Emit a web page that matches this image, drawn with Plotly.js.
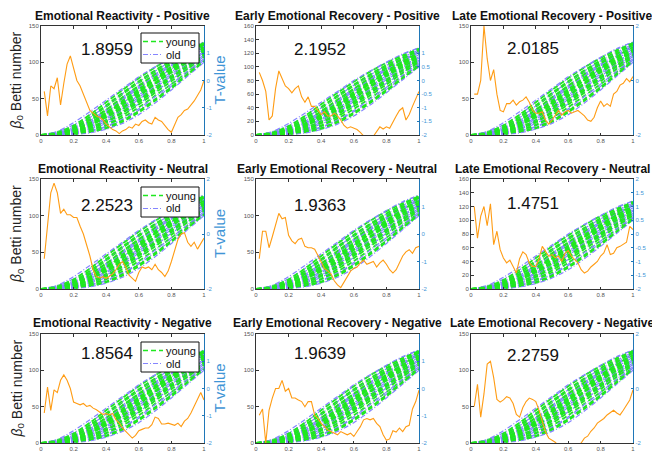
<!DOCTYPE html>
<html>
<head>
<meta charset="utf-8">
<script src="https://cdn.plot.ly/plotly-3.0.1.min.js"></script>
<style>html,body{margin:0;padding:0;background:#fff;}#chart{width:652px;height:452px;}</style>
</head>
<body>
<div id="chart"></div>
<script>
// ---------- DATA ----------
const PANEL_TITLES = [
  "Emotional Reactivity - Positive", "Early Emotional Recovery - Positive", "Late Emotional Recovery - Positive",
  "Emotional Reactivity - Neutral", "Early Emotional Recovery - Neutral", "Late Emotional Recovery - Neutral",
  "Emotional Reactivity - Negative", "Early Emotional Recovery - Negative", "Late Emotional Recovery - Negative"
];
const PANEL_STATS = ["1.8959", "2.1952", "2.0185", "2.2523", "1.9363", "1.4751", "1.8564", "1.9639", "2.2759"];
const LEGEND_LABELS = ["young", "old"];

const LEFT_MAX = [150, 160, 150, 150, 150, 160, 150, 150, 150];
const LEFT_TICKS_150 = [0, 50, 100, 150];
const LEFT_TICKS_160 = [0, 20, 40, 60, 80, 100, 120, 140, 160];
const X_TICKS = [0, 0.2, 0.4, 0.6, 0.8, 1];
const X_TICK_LABELS = ["0", "0.2", "0.4", "0.6", "0.8", "1"];
const RIGHT_TICKS_A = [-2, -1, 0, 1];
const RIGHT_TICKS_B = [-2, 0, 2];
const RIGHT_TICKS_C = [-2, -1.5, -1, -0.5, 0, 0.5, 1];
const RIGHT_TICKS_D = [-2, -1.5, -1, -0.5, 0, 0.5, 1, 1.5, 2];

// Betti-number curves (filtration value on x)
const X_GRID = [0, 0.1, 0.2, 0.3, 0.4, 0.5, 0.6, 0.7, 0.8, 0.9, 1.0];
const YOUNG_CURVES = [
  [0, 0.5, 2, 6, 13, 24, 38, 54, 70, 87, 104],
  [0, 1, 3, 8, 17, 30, 45, 61, 77, 93, 108],
  [0, 1, 4, 10, 21, 35, 50, 66, 82, 97, 112],
  [0, 1, 5, 13, 25, 40, 56, 72, 88, 102, 115],
  [0, 2, 6, 15, 29, 45, 61, 77, 92, 106, 118],
  [0, 2, 8, 19, 34, 50, 66, 82, 97, 110, 121],
  [0, 3, 10, 23, 39, 56, 72, 87, 101, 113, 124],
  [0, 4, 13, 28, 45, 62, 78, 93, 106, 117, 126],
  [0, 0.5, 1, 4, 9, 18, 31, 47, 64, 83, 101],
  [0, 1, 4, 11, 19, 31, 46, 62, 79, 96, 111],
  [0, 2, 7, 16, 27, 42, 59, 75, 90, 104, 117],
  [0, 1, 6, 12, 30, 44, 58, 76, 92, 108, 122],
  [0, 2, 9, 21, 35, 52, 68, 84, 99, 112, 125],
  [0, 1, 3, 7, 14, 27, 42, 58, 74, 91, 107],
  [0, 0.5, 2, 5, 10, 20, 33, 49, 66, 84, 102],
  [0, 1, 5, 14, 26, 38, 53, 70, 86, 100, 114],
  [0, 2, 8, 17, 31, 47, 63, 79, 94, 108, 120],
  [0, 3, 11, 25, 41, 58, 74, 89, 103, 115, 127],
  [0, 1, 3, 9, 18, 32, 48, 64, 80, 95, 110],
  [0, 2, 6, 14, 24, 37, 54, 71, 88, 103, 116]
];
const OLD_CURVES = [
  [0, 0.5, 2, 5, 11, 21, 34, 50, 67, 85, 103],
  [0, 1, 3, 8, 16, 28, 43, 59, 76, 92, 108],
  [0, 1, 4, 11, 22, 36, 52, 68, 84, 99, 113],
  [0, 2, 6, 15, 28, 44, 60, 76, 91, 105, 118],
  [0, 3, 9, 20, 35, 52, 68, 84, 98, 111, 123],
  [0, 4, 14, 28, 45, 62, 78, 93, 106, 118, 128],
  [0, 1, 5, 13, 24, 39, 55, 71, 87, 101, 115],
  [0, 2, 7, 17, 31, 48, 64, 80, 95, 108, 121],
  [0, 1, 2, 6, 12, 22, 36, 53, 70, 88, 105],
  [0, 3, 11, 24, 40, 57, 73, 88, 102, 114, 125],
  [0, 1, 3, 9, 19, 33, 49, 65, 81, 96, 110],
  [0, 2, 8, 18, 33, 50, 66, 82, 96, 109, 122],
  [0, 0.5, 1, 3, 8, 16, 28, 44, 62, 81, 100],
  [0, 5, 17, 32, 48, 64, 80, 94, 107, 119, 128]
];

// T-value curves (right axis)
const T_X = [0.02, 0.04, 0.06, 0.08, 0.10, 0.12, 0.14, 0.16, 0.18, 0.20,
             0.22, 0.24, 0.26, 0.28, 0.30, 0.32, 0.34, 0.36, 0.38, 0.40,
             0.42, 0.44, 0.46, 0.48, 0.50, 0.52, 0.54, 0.56, 0.58, 0.60,
             0.62, 0.64, 0.66, 0.68, 0.70, 0.72, 0.74, 0.76, 0.78, 0.80,
             0.82, 0.84, 0.86, 0.88, 0.90, 0.92, 0.94, 0.96, 0.98, 1.00];
const T_REACT_POS = [-0.4, -1.3, -0.2, -0.3, 0.1, -0.9, -0.1, 0.6, 0.9, 0.4,
  0.0, -0.2, -0.5, -0.85, -1.1, -1.2, -1.3, -1.35, -1.45, -1.6,
  -1.7, -1.8, -1.85, -1.95, -1.85, -1.8, -1.7, -1.75, -1.6, -1.65,
  -1.5, -1.45, -1.55, -1.6, -1.35, -1.45, -1.5, -1.65, -1.8, -1.9,
  -1.6, -1.35, -1.25, -1.1, -1.05, -0.9, -0.75, -0.55, -0.35, 0.0];
const T_EARLY_POS = [0.3, 0.0, -0.4, -1.45, -1.3, -0.3, 0.35, 0.1, -0.2, -0.3,
  -0.45, -0.3, -0.2, -0.6, -0.8, -0.6, -0.95, -0.95, -1.1, -1.25,
  -1.15, -1.3, -1.3, -1.2, -1.3, -1.45, -1.65, -1.75, -1.7, -1.75,
  -1.8, -1.9, -2.05, -2.2, -2.3, -2.05, -1.85, -1.7, -1.78, -1.7,
  -1.75, -1.5, -1.3, -1.1, -1.0, -1.45, -1.25, -0.95, -0.7, -0.4];
const T_LATE_POS = [-0.5, -0.5, 0.0, 2.0, 0.8, 0.0, 0.4, -0.5, -1.1, -1.15,
  -0.85, -0.85, -0.72, -0.9, -0.78, -0.72, -0.6, -0.8, -1.1, -1.2,
  -1.2, -1.15, -1.45, -1.6, -1.45, -1.27, -1.1, -1.27, -1.15, -1.1,
  -1.2, -1.15, -1.1, -1.2, -1.3, -1.45, -1.5, -1.35, -1.0, -0.75,
  -0.95, -0.85, -0.95, -0.5, -0.4, -0.17, -0.1, 0.07, -0.05, 0.15];
const T_REACT_NEU = [-0.9, 0.3, 1.5, 1.85, 1.5, 0.75, 0.9, 0.7, 0.7, 0.6,
  0.6, 0.28, 0.0, -0.4, -0.8, -1.3, -1.55, -1.6, -1.55, -1.62,
  -1.55, -1.45, -1.3, -1.1, -1.0, -1.2, -1.5, -1.6, -1.72, -1.4,
  -1.2, -1.25, -1.2, -1.3, -1.1, -1.3, -1.4, -1.55, -1.35, -1.0,
  -0.6, -0.2, 0.0, 0.05, -0.3, -0.45, -0.3, -0.55, -0.35, -0.15];
const T_EARLY_NEU = [-0.9, 0.1, 0.1, -0.5, -0.1, 0.3, 0.75, 0.55, 0.6, -0.05,
  -0.25, -0.35, -0.2, -0.15, -0.45, -0.5, -0.5, -0.55, -0.8, -1.05,
  -1.25, -1.35, -1.45, -1.7, -1.85, -1.95, -1.75, -1.5, -1.35, -1.25,
  -1.2, -1.05, -0.95, -1.1, -1.05, -1.0, -1.2, -1.05, -0.95, -1.1,
  -1.3, -1.42, -1.3, -1.05, -0.8, -0.65, -0.57, -0.7, -0.5, -0.45];
const T_LATE_NEU = [1.0, -0.15, 0.65, 1.0, 0.3, 1.1, -0.39, 0.1, -0.57, -0.87,
  -1.05, -0.95, -1.18, -1.42, -0.9, -0.65, -0.75, -1.05, -1.18, -1.18,
  -0.9, -0.45, -0.63, -0.81, -0.75, -0.87, -0.8, -1.0, -0.7, -0.6,
  -0.81, -0.95, -1.05, -1.3, -1.42, -1.35, -1.2, -1.1, -1.0, -0.8,
  -0.69, -0.39, -0.75, -0.7, -0.5, -0.45, -0.39, -0.3, 0.28, 0.16];
const T_REACT_NEG = [-0.9, 0.05, -0.8, -0.05, -0.15, 0.3, 0.5, 0.3, 0.0, -0.5,
  -0.55, -0.6, -0.55, -0.66, -0.62, -0.72, -0.78, -0.85, -0.95, -0.92,
  -0.97, -0.92, -1.15, -1.27, -1.45, -1.57, -1.7, -1.82, -1.72, -1.55,
  -1.5, -1.45, -1.45, -1.33, -1.05, -1.1, -1.3, -1.3, -1.27, -1.3,
  -1.35, -1.27, -1.4, -1.2, -1.1, -0.9, -0.66, -0.45, -0.15, -0.42];
const T_EARLY_NEG = [-0.98, -0.75, -2.0, -0.8, -0.35, 0.0, 0.0, 0.3, -0.1, 0.0,
  -0.35, -0.35, -0.42, -0.48, -0.67, -0.48, -0.48, -0.98, -1.1, -1.28,
  -1.4, -1.52, -1.58, -1.64, -1.7, -1.58, -1.64, -1.7, -1.64, -1.76,
  -1.58, -1.4, -1.15, -1.1, -1.15, -1.1, -1.28, -1.4, -1.7, -1.9,
  -1.85, -1.55, -1.6, -1.45, -1.58, -1.4, -1.35, -0.75, -0.48, -0.06];
const T_LATE_NEG = [-0.66, 0.15, -1.05, -0.2, 0.9, 1.0, 0.4, -0.4, -0.5, -0.42,
  -0.3, -0.35, -0.55, -0.95, -1.05, -0.7, -0.48, -0.35, -0.4, -0.48,
  -0.8, -1.25, -1.6, -1.82, -1.9, -1.97, -2.1, -2.2, -2.25, -2.25,
  -2.3, -2.2, -2.1, -2.0, -1.82, -1.75, -1.57, -1.45, -1.27, -1.2,
  -1.1, -0.97, -0.9, -0.8, -0.9, -0.97, -0.8, -0.6, -0.42, -0.05];

// ---------- BUILD ----------
const T_SERIES = [T_REACT_POS, T_EARLY_POS, T_LATE_POS, T_REACT_NEU, T_EARLY_NEU, T_LATE_NEU, T_REACT_NEG, T_EARLY_NEG, T_LATE_NEG];
const LEFT_TICKS = LEFT_MAX.map(m => m === 160 ? LEFT_TICKS_160 : LEFT_TICKS_150);
const RIGHT_TICKS = [RIGHT_TICKS_A, RIGHT_TICKS_C, RIGHT_TICKS_B, RIGHT_TICKS_B, RIGHT_TICKS_A, RIGHT_TICKS_D, RIGHT_TICKS_A, RIGHT_TICKS_A, RIGHT_TICKS_B];

const W = 652, H = 452;
const COL_PX = [[41, 204], [256, 419], [471, 633]];
const ROW_PX = [[26, 135], [179, 289], [334, 443]];
const TITLE_Y = [16, 169, 323];
const STAT_PX = [[107, 50], [320, 50], [533, 48], [107, 205], [320, 205], [533, 203], [107, 353], [320, 353], [533, 355]];
const LEGEND_TOP = [33, 187, 342];

const GREEN = '#1fe81f', BLUE = '#8585ff', ORANGE = '#ff9c14';
const RBLUE = '#1f77b8', RBLUE_TXT = '#3f95d6';
const FONT = 'Liberation Sans, Arial, sans-serif';
const GREEN_DASH = '5px,3px', BLUE_DASH = '5px,2px,1px,2px';

const px2x = p => p / W;
const px2y = p => (H - p) / H;

const traces = [];
const layout = {
  width: W, height: H,
  margin: {l: 0, r: 0, t: 0, b: 0},
  paper_bgcolor: '#fff', plot_bgcolor: '#fff',
  showlegend: false,
  font: {family: FONT},
  annotations: [],
  shapes: []
};

for (let i = 0; i < 9; i++) {
  const r = Math.floor(i / 3), c = i % 3;
  const xs = i === 0 ? '' : String(i + 1);
  const ys = i === 0 ? '' : String(i + 1);
  const yrs = String(10 + i);

  layout['xaxis' + xs] = {
    domain: [px2x(COL_PX[c][0]), px2x(COL_PX[c][1])],
    anchor: 'y' + ys, range: [0, 1],
    tickmode: 'array', tickvals: X_TICKS, ticktext: X_TICK_LABELS,
    ticks: 'inside', ticklen: 2.5, tickcolor: '#333', tickwidth: 1,
    showline: true, linecolor: '#333', linewidth: 1, mirror: 'ticks',
    showgrid: false, zeroline: false,
    tickfont: {size: 6, color: '#555', family: FONT}
  };
  layout['yaxis' + ys] = {
    domain: [px2y(ROW_PX[r][1]), px2y(ROW_PX[r][0])],
    anchor: 'x' + xs, range: [0, LEFT_MAX[i]],
    tickmode: 'array', tickvals: LEFT_TICKS[i], ticktext: LEFT_TICKS[i].map(String),
    ticks: 'inside', ticklen: 2.5, tickcolor: '#333', tickwidth: 1,
    showline: true, linecolor: '#333', linewidth: 1,
    showgrid: false, zeroline: false,
    tickfont: {size: 6, color: '#555', family: FONT}
  };
  layout['yaxis' + yrs] = {
    overlaying: 'y' + ys, anchor: 'x' + xs, side: 'right', range: [-2, 2],
    tickmode: 'array', tickvals: RIGHT_TICKS[i], ticktext: RIGHT_TICKS[i].map(String),
    ticks: 'inside', ticklen: 2.5, tickcolor: RBLUE, tickwidth: 1,
    showline: true, linecolor: RBLUE, linewidth: 1.2,
    showgrid: false, zeroline: false,
    tickfont: {size: 6, color: RBLUE_TXT, family: FONT}
  };

  const n = Math.max(YOUNG_CURVES.length, OLD_CURVES.length);
  for (let k = 0; k < n; k++) {
    if (k < YOUNG_CURVES.length) {
      traces.push({
        type: 'scatter', mode: 'lines', x: X_GRID, y: YOUNG_CURVES[k],
        xaxis: 'x' + xs, yaxis: 'y' + ys, name: LEGEND_LABELS[0],
        line: {color: GREEN, width: 1.8, dash: GREEN_DASH, shape: 'spline', smoothing: 0.8},
        hoverinfo: 'skip'
      });
    }
    if (k < OLD_CURVES.length) {
      traces.push({
        type: 'scatter', mode: 'lines', x: X_GRID, y: OLD_CURVES[k],
        xaxis: 'x' + xs, yaxis: 'y' + ys, name: LEGEND_LABELS[1],
        line: {color: BLUE, width: 1.2, dash: BLUE_DASH, shape: 'spline', smoothing: 0.8},
        hoverinfo: 'skip'
      });
    }
  }
  traces.push({
    type: 'scatter', mode: 'lines', x: T_X, y: T_SERIES[i],
    xaxis: 'x' + xs, yaxis: 'y' + yrs, name: 'T-value',
    line: {color: ORANGE, width: 1.1},
    hoverinfo: 'skip'
  });

  // subplot title
  layout.annotations.push({
    xref: 'paper', yref: 'paper',
    x: px2x((COL_PX[c][0] + COL_PX[c][1]) / 2), y: px2y(TITLE_Y[r]),
    xanchor: 'center', yanchor: 'middle', showarrow: false,
    text: '<b>' + PANEL_TITLES[i] + '</b>',
    font: {size: 12, color: '#111', family: FONT}
  });
  // statistic
  layout.annotations.push({
    xref: 'paper', yref: 'paper',
    x: px2x(STAT_PX[i][0]), y: px2y(STAT_PX[i][1]),
    xanchor: 'center', yanchor: 'middle', showarrow: false,
    text: PANEL_STATS[i],
    font: {size: 17, color: '#111', family: FONT}
  });
}

// axis labels + legend boxes for first column
for (let r = 0; r < 3; r++) {
  const cy = (ROW_PX[r][0] + ROW_PX[r][1]) / 2;
  layout.annotations.push({
    xref: 'paper', yref: 'paper', x: px2x(17), y: px2y(cy),
    xanchor: 'center', yanchor: 'middle', showarrow: false, textangle: -90,
    text: '<i>β</i><sub>0</sub> Betti number',
    font: {size: 14, color: '#222', family: FONT}
  });
  layout.annotations.push({
    xref: 'paper', yref: 'paper', x: px2x(219), y: px2y(cy),
    xanchor: 'center', yanchor: 'middle', showarrow: false, textangle: -90,
    text: 'T-value',
    font: {size: 15, color: RBLUE_TXT, family: FONT}
  });

  // legend box
  const top = LEGEND_TOP[r];
  layout.shapes.push({
    type: 'rect', xref: 'paper', yref: 'paper', layer: 'above',
    x0: px2x(141), x1: px2x(199), y0: px2y(top), y1: px2y(top + 30),
    fillcolor: '#fff', line: {color: '#111', width: 1}
  });
  const itemY = [top + 8.5, top + 21.5];
  const itemStyle = [{color: GREEN, width: 1.5, dash: GREEN_DASH}, {color: BLUE, width: 1.2, dash: BLUE_DASH}];
  for (let k = 0; k < 2; k++) {
    layout.shapes.push({
      type: 'line', xref: 'paper', yref: 'paper', layer: 'above',
      x0: px2x(143), x1: px2x(163), y0: px2y(itemY[k]), y1: px2y(itemY[k]),
      line: itemStyle[k]
    });
    layout.annotations.push({
      xref: 'paper', yref: 'paper', x: px2x(165), y: px2y(itemY[k]),
      xanchor: 'left', yanchor: 'middle', showarrow: false,
      text: LEGEND_LABELS[k], borderpad: 0,
      font: {size: 11, color: '#111', family: FONT}
    });
  }
}

Plotly.newPlot('chart', traces, layout, {staticPlot: true, displayModeBar: false});
</script>
</body>
</html>
